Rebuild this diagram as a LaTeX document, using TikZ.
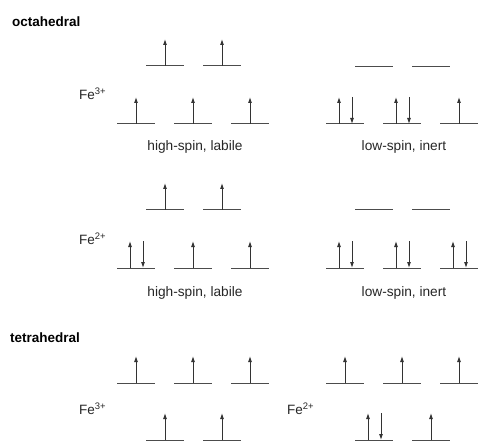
\documentclass[tikz,border=0pt]{standalone}
\usepackage{fontspec}
\setmainfont{Liberation Sans}
\usetikzlibrary{arrows.meta}

% one orbital: empty, one electron, two electrons
\newcommand{\eorb}[2]{\draw[level] ({#1-19},#2) -- ({#1+19},#2);}
\newcommand{\sorb}[2]{\eorb{#1}{#2}\draw[spin] (#1,#2) -- (#1,{#2-27});}
\newcommand{\dorb}[2]{\eorb{#1}{#2}\draw[spin] ({#1-6},#2) -- ({#1-6},{#2-27});
	\draw[spin] ({#1+7},{#2-27}) -- ({#1+7},#2);}

\begin{document}
\begin{tikzpicture}[x=1pt,y=-1pt,
				level/.style={line width=1pt,color=black!70},
				spin/.style={line width=0.9pt,color=black!80,-{Latex[length=6pt,width=4pt]}},
				title/.style={font=\bfseries\fontsize{13.5}{16}\selectfont,anchor=west,inner sep=0pt},
				ion/.style={font=\fontsize{13.5}{15}\selectfont,anchor=west,inner sep=0pt,text=black!85},
				caption/.style={font=\fontsize{13.7}{16}\selectfont,inner sep=0pt,text=black!85}]
				\useasboundingbox (0,0) rectangle (485,441);
				
				\node[title] (oct) at (12,22) {octahedral};
				\node[ion] (fe3o) at (79,94) {Fe\textsuperscript{3+}};
				\node[ion] (fe2o) at (79,239) {Fe\textsuperscript{2+}};
				\node[caption] (hs3) at (195,147) {high-spin, labile};
				\node[caption] (ls3) at (404,147) {low-spin, inert};
				\node[caption] (hs2) at (195,293) {high-spin, labile};
				\node[caption] (ls2) at (404,293) {low-spin, inert};
				\node[title] (tet) at (10,338) {tetrahedral};
				\node[ion] (fe3t) at (79,409) {Fe\textsuperscript{3+}};
				\node[ion] (fe2t) at (287,409) {Fe\textsuperscript{2+}};
				
				% octahedral Fe3+
				\sorb{165}{66} \sorb{222}{66}
				\sorb{136}{124} \sorb{193}{124} \sorb{250}{124}
				\eorb{374}{67} \eorb{431}{67}
				\dorb{345}{124} \dorb{402}{124} \sorb{459}{124}
				
				% octahedral Fe2+
				\sorb{165}{210} \sorb{222}{210}
				\dorb{136}{268} \sorb{193}{268} \sorb{250}{268}
				\eorb{374}{210} \eorb{431}{210}
				\dorb{345}{268} \dorb{402}{268} \dorb{459}{268}
				
				% tetrahedral
				\sorb{136}{383} \sorb{193}{383} \sorb{250}{383}
				\sorb{345}{383} \sorb{402}{383} \sorb{459}{383}
				\sorb{165}{440} \sorb{222}{440}
				\dorb{374}{440} \sorb{431}{440}
			\end{tikzpicture}
\end{document}
